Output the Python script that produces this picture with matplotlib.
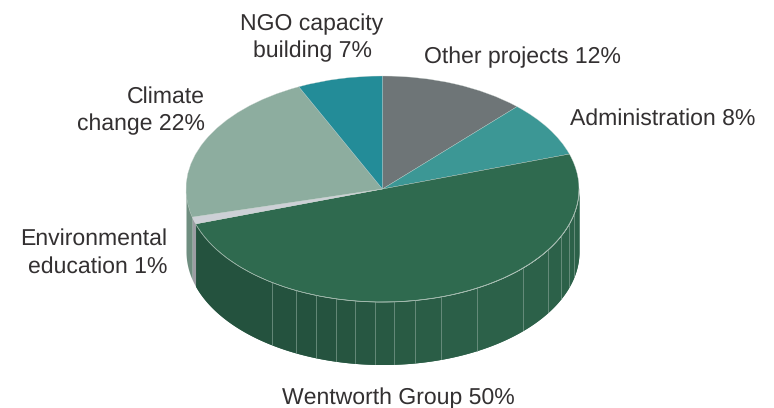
#!/usr/bin/env python3
"""Funding split as a tilted pie with a side wall."""
import matplotlib
matplotlib.use("Agg")
import matplotlib.pyplot as plt
import numpy as np

# clockwise from 12 o'clock
names = ["Other projects", "Administration", "Wentworth Group",
         "Environmental\neducation", "Climate\nchange", "NGO capacity\nbuilding"]
values = [12, 8, 50, 1, 22, 7]
colors = ["#6E7577", "#3C9795", "#2F6A4F", "#CDD0D6", "#8DAD9F", "#238C98"]
wall_colors = ["#5A6163", "#2F7A78", "#2A5F47", "#9C9DA3", "#6F8E80", "#1C7079"]

# rib lines on the Wentworth wall, pixel x
rib_x = [272, 296, 316, 336, 355, 375, 394, 415, 441, 477, 523, 548, 561, 569, 574]

label_pos = [(522, 57), (663, 119), (398, 398), (167, 253), (205, 111), (312, 38)]
label_ha = ["center", "center", "center", "right", "right", "center"]

plt.rcParams["font.family"] = ["Liberation Sans", "DejaVu Sans"]
plt.rcParams["text.hinting"] = "no_hinting"
plt.rcParams["text.hinting_factor"] = 1

CX, CY, RX, RY = 382.5, 189.0, 196.5, 113.0
DEPTH = 62.5 / RY


def px(x, y):
    return (x - CX) / RX, (CY - y) / RY


fig = plt.figure(figsize=(7.74, 4.08), dpi=100)
ax = fig.add_axes([0, 0, 1, 1])

# slice limits in degrees, from the values
fracs = np.array(values) / sum(values)
ends = 90 - np.cumsum(fracs) * 360
starts = np.r_[90, ends[:-1]]


def wall(t0, t1, color, z=1):
    # side wall between two angles, degrees
    t = np.radians(np.linspace(t0, t1, 200))
    ax.fill_between(np.cos(t), np.sin(t), np.sin(t) - DEPTH, color=color, lw=0, zorder=z)


# only the front half of the rim shows
for a, b, c in zip(starts, ends, wall_colors):
    lo, hi = min(a, b), max(a, b)
    for k in (0, -360):
        l2, h2 = max(lo + k, -180), min(hi + k, 0)
        if h2 > l2:
            wall(l2, h2, c)

# Wentworth wall goes slightly darker to the left
edges = [-1.0] + [(x - CX) / RX for x in rib_x] + [1.0]
left, right = np.array([0x24, 0x52, 0x3E]), np.array([0x2C, 0x61, 0x49])
for e0, e1 in zip(edges[:-1], edges[1:]):
    mix = np.clip((e0 + 0.4) / 0.8, 0, 1)
    col = (left + (right - left) * mix) / 255
    t0 = -np.degrees(np.arccos(e0))
    t1 = -np.degrees(np.arccos(e1))
    t0 = max(t0, ends[2])
    if t1 > t0:
        wall(t0, t1, col, z=2)

for x in rib_x:
    xd = (x - CX) / RX
    yd = -np.sqrt(1 - xd ** 2)
    ax.plot([xd, xd], [yd, yd - DEPTH], color="#7E9D8F", lw=0.5, zorder=3)

wedges, _ = ax.pie(values, colors=colors, startangle=90, counterclock=False, radius=1,
                   wedgeprops={"edgecolor": "#C9D3CE", "linewidth": 0.2, "zorder": 4})

# pale rim on the top of the Wentworth slice
t = np.radians(np.linspace(ends[2], 0, 200))
ax.plot(np.cos(t), np.sin(t), color="#9DB6A9", lw=0.5, zorder=5)

for name, v, (x, y), ha in zip(names, values, label_pos, label_ha):
    xd, yd = px(x, y)
    ax.text(xd, yd, f"{name} {v}%", ha=ha, va="center", ma=ha,
            fontsize=16.7, color="#333031", linespacing=1.36, zorder=6)

ax.set_aspect("auto")
ax.set_xlim(px(0, 0)[0], px(774, 0)[0])
ax.set_ylim(px(0, 408)[1], px(0, 0)[1])
ax.axis("off")
fig.savefig("out.png", dpi=100)
